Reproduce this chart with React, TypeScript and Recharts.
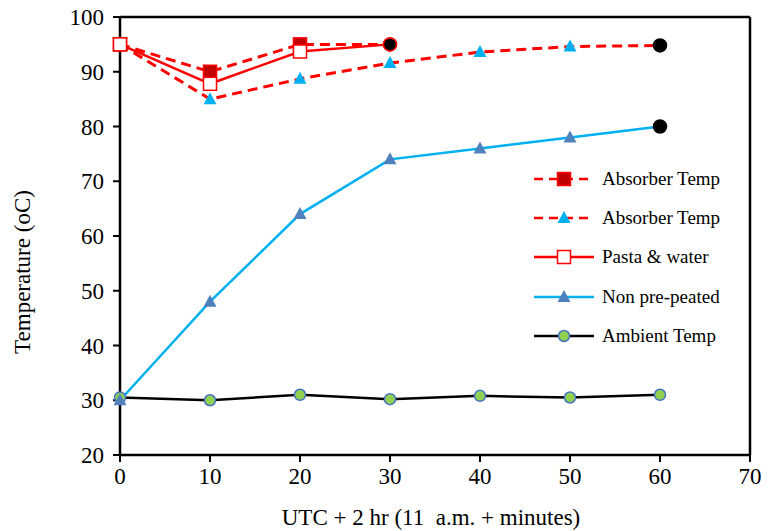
import { LineChart, Line, XAxis, YAxis, ReferenceLine } from 'recharts';

const minutes = [0, 10, 20, 30, 40, 50, 60];
const absorberSquares = [95, 90, 95, 95];
const absorberTriangles = [95, 85, 88.7, 91.6, 93.6, 94.6, 94.8];
const pastaWater = [95, 87.8, 93.7, 95];
const nonPreheated = [30, 48, 64, 74, 76, 78, 80];
const ambient = [30.5, 30, 31, 30.2, 30.8, 30.5, 31];
const xTicks = [0, 10, 20, 30, 40, 50, 60, 70];
const yTicks = [20, 30, 40, 50, 60, 70, 80, 90, 100];

const FONT = '"Times New Roman", "Liberation Serif", Tinos, serif';
const RED = '#ff0000';
const CYAN = '#00b0f0';

const rows = minutes.map((m, i) => ({
  x: m,
  a1: absorberSquares[i],
  a2: absorberTriangles[i],
  pasta: pastaWater[i],
  non: nonPreheated[i],
  amb: ambient[i],
}));

type Shape = 'square' | 'open' | 'tri' | 'circle';

function marker(shape: Shape, fill: string, stroke: string, cx: number, cy: number, key?: string) {
  if (shape === 'square' || shape === 'open') {
    return <rect key={key} x={cx - 6.5} y={cy - 6.5} width={13} height={13} fill={fill} stroke={stroke} strokeWidth={1.5} />;
  }
  if (shape === 'tri') {
    return <path key={key} d={`M${cx},${cy - 7} L${cx + 6.5},${cy + 5} L${cx - 6.5},${cy + 5} Z`} fill={fill} stroke="none" />;
  }
  return <circle key={key} cx={cx} cy={cy} r={5.5} fill={fill} stroke={stroke} strokeWidth={1.5} />;
}

// last point of some series ends in a black dot
function makeDot(shape: Shape, fill: string, stroke: string, lastIdx: number, endStroke = '#000') {
  return (props: any) => {
    const { cx, cy, index, value } = props;
    const k = `d-${index}`;
    if (cx == null || cy == null || value == null) return <g key={k} />;
    if (index === lastIdx) {
      return <circle key={k} cx={cx} cy={cy} r={6.5} fill="#000" stroke={endStroke} strokeWidth={1.5} />;
    }
    return marker(shape, fill, stroke, cx, cy, k);
  };
}

const legendItems = [
  { name: 'Absorber Temp', color: RED, dash: '9 6', shape: 'square' as Shape, fill: '#c00000', stroke: RED },
  { name: 'Absorber Temp', color: RED, dash: '9 6', shape: 'tri' as Shape, fill: CYAN, stroke: CYAN },
  { name: 'Pasta & water', color: RED, dash: undefined, shape: 'open' as Shape, fill: '#fff', stroke: RED },
  { name: 'Non pre-peated', color: CYAN, dash: undefined, shape: 'tri' as Shape, fill: '#4f81bd', stroke: '#4f81bd' },
  { name: 'Ambient Temp', color: '#000', dash: undefined, shape: 'circle' as Shape, fill: '#92d050', stroke: '#4472c4' },
];

function LegendBox() {
  return (
    <div style={{ position: 'absolute', left: 530, top: 159, width: 230, fontFamily: FONT, fontSize: 19, color: '#000' }}>
      {legendItems.map((it, i) => (
        <div key={i} style={{ display: 'flex', alignItems: 'center', height: 39.3 }}>
          <svg width={66} height={20}>
            <line x1={4} y1={10} x2={64} y2={10} stroke={it.color} strokeWidth={2.5} strokeDasharray={it.dash} />
            {marker(it.shape, it.fill, it.stroke, 34, 10)}
          </svg>
          <span style={{ marginLeft: 6, whiteSpace: 'nowrap' }}>{it.name}</span>
        </div>
      ))}
    </div>
  );
}

const tickStyle = { fontSize: 23, fill: '#000', fontFamily: FONT };
const frame = { stroke: '#000', strokeWidth: 2.5 };

export default function App() {
  return (
    <div style={{ position: 'absolute', left: 0, top: 0, width: 770, height: 531, background: '#fff', fontFamily: FONT }}>
      <LineChart width={770} height={531} data={rows} margin={{ top: 17, right: 20, bottom: 26, left: 60 }}>
        <XAxis
          dataKey="x"
          type="number"
          domain={[0, 70]}
          ticks={xTicks}
          interval={0}
          height={50}
          tick={tickStyle}
          tickSize={7}
          tickMargin={6}
          axisLine={frame}
          tickLine={{ stroke: '#000', strokeWidth: 2 }}
          label={(p: any) => {
            const vb = p.viewBox;
            return (
              <text x={vb.x + vb.width / 2 - 4} y={vb.y + 70} textAnchor="middle" fontFamily={FONT} fontSize={23} fill="#000" style={{ whiteSpace: 'pre' }}>
                UTC + 2 hr (11  a.m. + minutes)
              </text>
            );
          }}
        />
        <YAxis
          type="number"
          domain={[20, 100]}
          ticks={yTicks}
          interval={0}
          width={60}
          tick={tickStyle}
          tickSize={7}
          tickMargin={9}
          axisLine={frame}
          tickLine={{ stroke: '#000', strokeWidth: 2 }}
          label={(p: any) => {
            const vb = p.viewBox;
            const cx = 22;
            const cy = vb.y + vb.height / 2 + 36;
            return (
              <text x={cx} y={cy} transform={`rotate(-90, ${cx}, ${cy})`} textAnchor="middle" dominantBaseline="central" fontFamily={FONT} fontSize={23} fill="#000">
                Temperature (oC)
              </text>
            );
          }}
        />
        <ReferenceLine y={100} {...frame} />
        <ReferenceLine x={70} {...frame} />
        <Line dataKey="amb" name="Ambient Temp" stroke="#000" strokeWidth={2.5} isAnimationActive={false}
          dot={makeDot('circle', '#92d050', '#4472c4', -1)} />
        <Line dataKey="non" name="Non pre-peated" stroke={CYAN} strokeWidth={2.5} isAnimationActive={false}
          dot={makeDot('tri', '#4f81bd', '#4f81bd', 6)} />
        <Line dataKey="a1" name="Absorber Temp" stroke={RED} strokeWidth={3} strokeDasharray="10 6" isAnimationActive={false}
          dot={makeDot('square', '#c00000', RED, 3, RED)} />
        <Line dataKey="a2" name="Absorber Temp" stroke={RED} strokeWidth={3} strokeDasharray="10 6" isAnimationActive={false}
          dot={makeDot('tri', CYAN, CYAN, 6)} />
        <Line dataKey="pasta" name="Pasta & water" stroke={RED} strokeWidth={2.5} isAnimationActive={false}
          dot={makeDot('open', '#fff', RED, 3, RED)} />
      </LineChart>
      <LegendBox />
    </div>
  );
}
